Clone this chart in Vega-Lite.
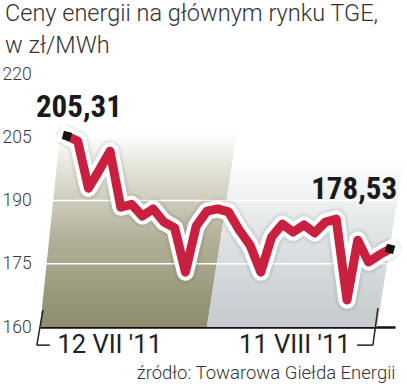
{
  "$schema": "https://vega.github.io/schema/vega-lite/v6.json",
  "width": 355,
  "height": 253,
  "autosize": {"type": "none"},
  "padding": {"left": 40, "top": 74, "right": 12, "bottom": 64},
  "background": "white",
  "config": {"view": {"stroke": null}},
  "title": {
    "text": ["Ceny energii na głównym rynku TGE,", "w zł/MWh"],
    "anchor": "start",
    "frame": "group",
    "dx": -35,
    "dy": 6,
    "font": "Roboto",
    "fontSize": 23.5,
    "fontWeight": 300,
    "color": "#333333",
    "lineHeight": 32,
    "offset": 14
  },
  "datasets": {
    "prices": [
      {"date": "2011-07-12", "price": 205.31, "label": "205,31"},
      {"date": "2011-07-13", "price": 204.1},
      {"date": "2011-07-14", "price": 192.9},
      {"date": "2011-07-15", "price": 197.2},
      {"date": "2011-07-16", "price": 201.7},
      {"date": "2011-07-17", "price": 188.4},
      {"date": "2011-07-18", "price": 189.1},
      {"date": "2011-07-19", "price": 186.3},
      {"date": "2011-07-20", "price": 188.0},
      {"date": "2011-07-21", "price": 184.9},
      {"date": "2011-07-22", "price": 183.5},
      {"date": "2011-07-23", "price": 173.0},
      {"date": "2011-07-24", "price": 183.9},
      {"date": "2011-07-25", "price": 187.5},
      {"date": "2011-07-26", "price": 188.0},
      {"date": "2011-07-27", "price": 187.3},
      {"date": "2011-07-28", "price": 183.0},
      {"date": "2011-07-29", "price": 179.4},
      {"date": "2011-07-30", "price": 173.0},
      {"date": "2011-07-31", "price": 181.3},
      {"date": "2011-08-01", "price": 184.4},
      {"date": "2011-08-02", "price": 182.5},
      {"date": "2011-08-03", "price": 184.2},
      {"date": "2011-08-04", "price": 182.3},
      {"date": "2011-08-05", "price": 184.9},
      {"date": "2011-08-06", "price": 185.6},
      {"date": "2011-08-07", "price": 166.4},
      {"date": "2011-08-08", "price": 180.6},
      {"date": "2011-08-09", "price": 175.4},
      {"date": "2011-08-10", "price": 177.1},
      {"date": "2011-08-11", "price": 178.53, "label": "178,53"}
    ],
    "olive": [
      {"v": 160, "from": "2011-07-09T12:00:00Z", "to": "2011-07-25T00:00:00Z"},
      {"v": 206, "from": "2011-07-11T09:00:00Z", "to": "2011-07-27T19:00:00Z"}
    ],
    "grey": [
      {"v": 160, "from": "2011-07-25T00:00:00Z", "to": "2011-08-09T19:00:00Z"},
      {"v": 200, "from": "2011-07-27T10:20:00Z", "to": "2011-08-12T07:00:00Z"}
    ],
    "grid": [{"v": 175}, {"v": 190}],
    "brackets": [
      {"d1": "2011-07-09T18:30:00Z", "v1": 164.0, "d2": "2011-07-09T05:00:00Z", "v2": 155.7},
      {"d1": "2011-07-09T05:00:00Z", "v1": 155.7, "d2": "2011-07-10T10:00:00Z", "v2": 155.7},
      {"d1": "2011-08-09T21:00:00Z", "v1": 164.5, "d2": "2011-08-09T09:50:00Z", "v2": 155.7},
      {"d1": "2011-08-09T09:50:00Z", "v1": 155.7, "d2": "2011-08-07T22:20:00Z", "v2": 155.7}
    ]
  },
  "layer": [
    {
      "data": {"name": "olive"},
      "mark": {
        "type": "area",
        "orient": "horizontal",
        "fill": {
          "gradient": "linear", "x1": 0, "y1": 1, "x2": 0, "y2": 0,
          "stops": [
            {"offset": 0, "color": "#8e8c6d"},
            {"offset": 0.45, "color": "#b1af97"},
            {"offset": 0.8, "color": "#e2e1d6"},
            {"offset": 1, "color": "#ffffff"}
          ]
        }
      },
      "encoding": {
        "y": {"field": "v", "type": "quantitative", "scale": {"domain": [160, 220]}},
        "x": {"field": "from", "type": "temporal", "scale": {"type": "utc", "domain": [{"year": 2011, "month": 7, "date": 9, "hours": 12, "utc": true}, {"year": 2011, "month": 8, "date": 11, "hours": 11, "utc": true}]}},
        "x2": {"field": "to"}
      }
    },
    {
      "data": {"name": "grey"},
      "mark": {
        "type": "area",
        "orient": "horizontal",
        "fill": {
          "gradient": "linear", "x1": 0, "y1": 1, "x2": 0, "y2": 0,
          "stops": [
            {"offset": 0, "color": "#c4cacd"},
            {"offset": 0.5, "color": "#dde1e3"},
            {"offset": 1, "color": "#ffffff"}
          ]
        }
      },
      "encoding": {
        "y": {"field": "v", "type": "quantitative", "scale": {"domain": [160, 220]}},
        "x": {"field": "from", "type": "temporal", "scale": {"type": "utc", "domain": [{"year": 2011, "month": 7, "date": 9, "hours": 12, "utc": true}, {"year": 2011, "month": 8, "date": 11, "hours": 11, "utc": true}]}},
        "x2": {"field": "to"}
      }
    },
    {
      "data": {"name": "grid"},
      "mark": {"type": "rule", "color": "#ffffff", "strokeWidth": 1.5},
      "encoding": {
        "y": {"field": "v", "type": "quantitative", "scale": {"domain": [160, 220]}}
      }
    },
    {
      "data": {"name": "brackets"},
      "mark": {"type": "rule", "color": "#222222", "strokeWidth": 1.5},
      "encoding": {
        "x": {"field": "d1", "type": "temporal", "scale": {"type": "utc", "domain": [{"year": 2011, "month": 7, "date": 9, "hours": 12, "utc": true}, {"year": 2011, "month": 8, "date": 11, "hours": 11, "utc": true}]}},
        "x2": {"field": "d2"},
        "y": {"field": "v1", "type": "quantitative", "scale": {"domain": [160, 220]}},
        "y2": {"field": "v2"}
      }
    },
    {
      "data": {"name": "prices"},
      "layer": [
        {
          "mark": {"type": "line", "stroke": "#000000", "opacity": 0.06, "strokeWidth": 23, "strokeJoin": "round", "strokeCap": "round"},
          "encoding": {}
        },
        {
          "mark": {"type": "line", "stroke": "#ffffff", "strokeWidth": 17, "strokeJoin": "round", "strokeCap": "square"},
          "encoding": {}
        },
        {
          "mark": {"type": "line", "stroke": "#c8203e", "strokeWidth": 9, "strokeJoin": "round"},
          "encoding": {}
        },
        {
          "transform": [{"filter": "datum.label != null"}],
          "mark": {"type": "point", "shape": "square", "filled": true, "color": "#151515", "size": 72, "angle": 15, "opacity": 1},
          "encoding": {}
        },
        {
          "transform": [{"filter": "datum.label == '205,31'"}],
          "mark": {"type": "text", "align": "left", "baseline": "alphabetic", "dx": -31, "dy": -19, "font": "Liberation Sans Narrow, Roboto Condensed, DejaVu Sans Condensed, Arial Narrow, sans-serif", "fontWeight": "bold", "fontSize": 31, "color": "#1a1a1a"},
          "encoding": {"text": {"field": "label"}}
        },
        {
          "transform": [{"filter": "datum.label == '178,53'"}],
          "mark": {"type": "text", "align": "right", "baseline": "alphabetic", "dx": 7, "dy": -50, "font": "Liberation Sans Narrow, Roboto Condensed, DejaVu Sans Condensed, Arial Narrow, sans-serif", "fontWeight": "bold", "fontSize": 31, "color": "#1a1a1a"},
          "encoding": {"text": {"field": "label"}}
        }
      ],
      "encoding": {
        "x": {
          "field": "date", "type": "temporal",
          "scale": {"type": "utc", "domain": [{"year": 2011, "month": 7, "date": 9, "hours": 12, "utc": true}, {"year": 2011, "month": 8, "date": 11, "hours": 11, "utc": true}]},
          "axis": {
            "values": [{"year": 2011, "month": 7, "date": 12, "utc": true}, {"year": 2011, "month": 8, "date": 11, "utc": true}],
            "labelExpr": "utcmonth(datum.value) == 6 ? \"12 VII '11\" : \"11 VIII '11\"",
            "labelAlign": {"condition": {"test": "utcmonth(datum.value) == 6", "value": "left"}, "value": "right"},
            "labelOffset": {"condition": {"test": "utcmonth(datum.value) == 6", "value": -10}, "value": -40},
            "labelFlush": false,
            "labelOverlap": false,
            "labelFont": "Roboto",
            "labelFontSize": 25.5,
            "labelColor": "#222222",
            "labelPadding": 5,
            "labelBaseline": "top",
            "ticks": false,
            "tickSize": 0,
            "grid": false,
            "domain": true,
            "domainColor": "#111111",
            "domainWidth": 2.5,
            "title": "źródło: Towarowa Giełda Energii",
            "titleFont": "Roboto",
            "titleFontSize": 18.5,
            "titleFontWeight": 300,
            "titleColor": "#333333",
            "titleAnchor": "end",
            "titlePadding": 6
          }
        },
        "y": {
          "field": "price", "type": "quantitative",
          "scale": {"domain": [160, 220]},
          "axis": {
            "values": [160, 175, 190, 205, 220],
            "labelAlign": "left",
            "labelBaseline": "middle",
            "labelPadding": 38,
            "labelFont": "Roboto",
            "labelFontSize": 17.5,
            "labelFontWeight": 300,
            "labelColor": "#3a3a3a",
            "ticks": false,
            "tickSize": 0,
            "domain": false,
            "grid": false,
            "title": null
          }
        }
      }
    }
  ]
}
